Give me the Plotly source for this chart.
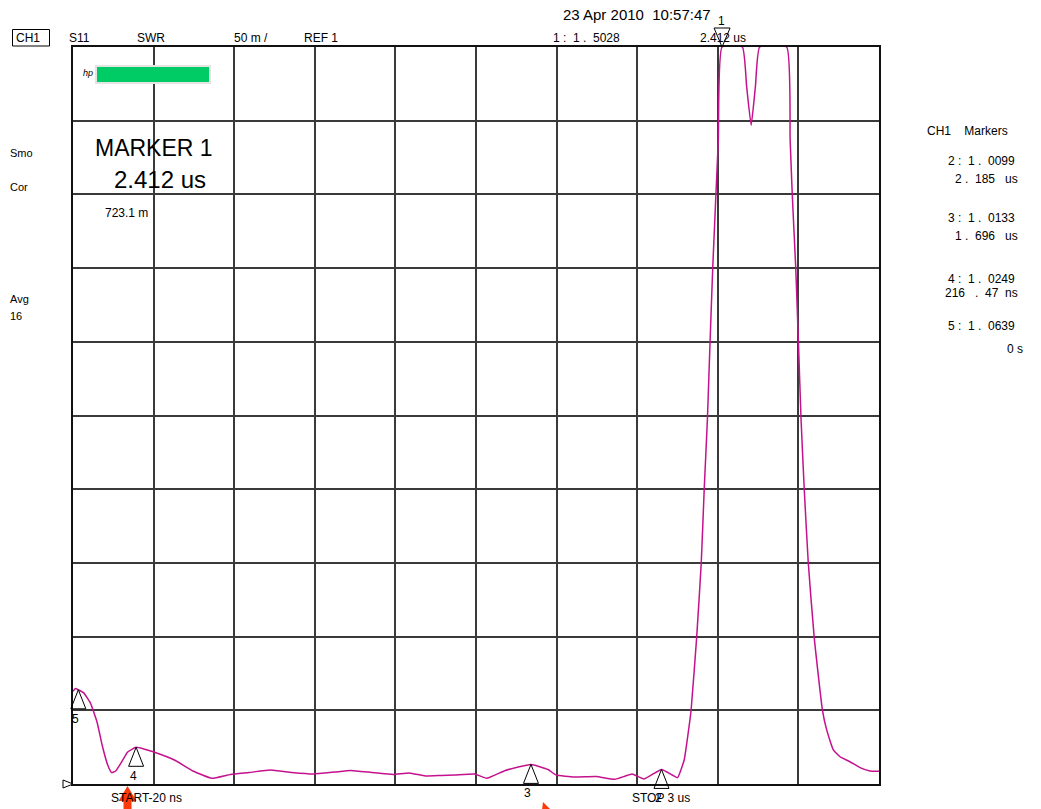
import plotly.graph_objects as go

# ---------------- data ----------------
time_us = [-0.020, -0.010, 0.000, 0.020, 0.045, 0.070, 0.090, 0.110, 0.125, 0.140, 0.160, 0.185,
           0.2165, 0.245, 0.280, 0.360, 0.430, 0.500, 0.570, 0.640, 0.720, 0.800, 0.880,
           0.960, 1.020, 1.100, 1.180, 1.240, 1.300, 1.360, 1.410, 1.485, 1.530, 1.600,
           1.696, 1.760, 1.790, 1.860, 1.940, 2.010, 2.050, 2.075, 2.120, 2.185, 2.225,
           2.245, 2.270, 2.285, 2.296, 2.317, 2.334, 2.345, 2.357, 2.367, 2.377, 2.389,
           2.398, 2.412, 2.488, 2.504, 2.521, 2.537, 2.553, 2.654, 2.667, 2.675, 2.688,
           2.698, 2.708, 2.720, 2.735, 2.757, 2.788, 2.804, 2.829, 2.854, 2.891, 2.929,
           2.966, 3.000]
swr = [1.0630, 1.0648, 1.0639, 1.0618, 1.0550, 1.0421, 1.0258, 1.0129, 1.0077, 1.0088, 1.0143, 1.0217,
       1.0249, 1.0238, 1.0219, 1.0163, 1.0088, 1.0039, 1.0065, 1.0078, 1.0095, 1.0078, 1.0068,
       1.0081, 1.0092, 1.0078, 1.0065, 1.0075, 1.0054, 1.0058, 1.0061, 1.0068, 1.0039, 1.0092,
       1.0133, 1.0098, 1.0061, 1.0048, 1.0051, 1.0032, 1.0054, 1.0068, 1.0034, 1.0099, 1.0061,
       1.0043, 1.0163, 1.0346, 1.0502, 1.1000, 1.1499, 1.1996, 1.2471, 1.2999, 1.3501, 1.3999,
       1.4373, 1.5000, 1.5000, 1.4733, 1.4469, 1.4733, 1.5000, 1.5000, 1.4373, 1.3999, 1.3503,
       1.3001, 1.2471, 1.1996, 1.1501, 1.0998, 1.0502, 1.0367, 1.0231, 1.0185, 1.0151, 1.0111,
       1.0088, 1.0086]

marker_ids = ["1", "2", "3", "4", "5"]
marker_time_us = [2.412, 2.185, 1.696, 0.21647, 0.0]
marker_swr = [1.5028, 1.0099, 1.0133, 1.0249, 1.0639]

x_start, x_stop = -0.020, 3.0
ref_value, scale_per_div, n_div = 1.0, 0.05, 10

header_labels = ["S11", "SWR", "50 m /", "REF 1"]
header_x = [67, 135, 232, 302]
left_labels = ["Smo", "Cor", "Avg", "16"]
left_y = [153, 187, 299, 316]

# ---------------- layout helpers ----------------
W, H = 1041, 809
L, R, T, B = 73, 879, 47, 784
y_top = ref_value + scale_per_div * n_div
x_div = (x_stop - x_start) / n_div


def px(x):
    return (x - L) / (R - L)


def py(y):
    return (B - y) / (B - T)


def dx(t):  # data time -> paper fraction
    return (t - x_start) / (x_stop - x_start)


def dy(v):  # data swr -> paper fraction
    return (v - ref_value) / (y_top - ref_value)


FONT = "Liberation Sans, Arial, sans-serif"
TRACE = "#C4128E"

fig = go.Figure()
fig.add_trace(go.Scatter(x=time_us, y=swr, mode="lines",
                         line=dict(color=TRACE, width=1.5, shape="spline", smoothing=0.4),
                         hoverinfo="skip", showlegend=False))

shapes = []
annotations = []


def text(x, y, s, size=12, anchor="left"):
    annotations.append(dict(x=px(x), y=py(y), xref="paper", yref="paper", text=s,
                            showarrow=False, xanchor=anchor, yanchor="middle",
                            font=dict(family=FONT, size=size, color="black")))


# marker triangles (apex at data point)
for mid, mt, mv in zip(marker_ids, marker_time_us, marker_swr):
    if mv > y_top:
        yv = y_top
        path = "M0,0 L-8,19 L8,19 Z"
        lab_shift = 26
        xs = -1
    else:
        yv = mv
        path = "M0,0 L-7.5,-19 L7.5,-19 Z"
        lab_shift = -29
        xs = -3
    shapes.append(dict(type="path", xref="paper", yref="paper", xsizemode="pixel", ysizemode="pixel",
                       xanchor=dx(mt), yanchor=dy(yv), path=path,
                       line=dict(color="black", width=1), fillcolor="rgba(0,0,0,0)", layer="above"))
    annotations.append(dict(x=mt, y=yv, xref="x", yref="y", text=mid, showarrow=False,
                            xshift=xs, yshift=lab_shift,
                            font=dict(family=FONT, size=12, color="black")))

# reference-level pointer
shapes.append(dict(type="path", xref="paper", yref="paper", xsizemode="pixel", ysizemode="pixel",
                   xanchor=dx(x_start), yanchor=dy(ref_value), path="M0,0 L-10,4 L-10,-4 Z",
                   line=dict(color="black", width=1), fillcolor="white", layer="above"))

# CH1 box
shapes.append(dict(type="rect", xref="paper", yref="paper", x0=px(12.5), x1=px(49.5),
                   y0=py(46), y1=py(29.5), line=dict(color="black", width=1)))
text(14, 38, "CH1")
for s, x in zip(header_labels, header_x):
    text(x, 38, s)
text(561, 14.5, "23 Apr 2010&nbsp; 10:57:47", size=15)
text(551, 38, "1&nbsp;:&nbsp;&nbsp;1&nbsp;.&nbsp;&nbsp;5028")
text(698, 38, "2.412 us")

for s, y in zip(left_labels, left_y):
    text(8, y, s, size=11)

# hp logo + green bar
shapes.append(dict(type="rect", xref="paper", yref="paper", x0=px(96), x1=px(210),
                   y0=py(83), y1=py(66), line=dict(color="#e4e4e4", width=2), fillcolor="#00CC66"))
text(81, 73, "<i>hp</i>", size=9)

# big marker readout
text(93, 148, "MARKER 1", size=23)
text(112, 180, "2.412 us", size=24)
text(103, 213, "723.1 m", size=12)

# right side marker table
text(925, 131, "CH1&nbsp;&nbsp;&nbsp;&nbsp;Markers")
rows = [("2&nbsp;:&nbsp;&nbsp;1&nbsp;.&nbsp;&nbsp;0099", 161, "2&nbsp;.&nbsp;&nbsp;185", 953, "us", 179),
        ("3&nbsp;:&nbsp;&nbsp;1&nbsp;.&nbsp;&nbsp;0133", 218, "1&nbsp;.&nbsp;&nbsp;696", 953, "us", 236),
        ("4&nbsp;:&nbsp;&nbsp;1&nbsp;.&nbsp;&nbsp;0249", 279, "216&nbsp;&nbsp;&nbsp;.&nbsp;&nbsp;47", 943, "ns", 293),
        ("5&nbsp;:&nbsp;&nbsp;1&nbsp;.&nbsp;&nbsp;0639", 326, "0", 1005, "s", 349)]
for a, ya, b, xb, u, yb in rows:
    text(946, ya, a)
    text(xb, yb, b)
    text(1003 if u != "s" else 1015, yb, u)

# bottom labels
text(109, 798, "START-20 ns")
text(630, 798, "STOP 3 us")


# red arrows
def pth(pts):
    return "M " + " L ".join(f"{px(x)},{py(y)}" for x, y in pts) + " Z"


shapes.append(dict(type="path", xref="paper", yref="paper",
                   path=pth([(127.5, 786), (136.5, 801), (131.5, 801), (131.5, 812),
                             (123.5, 812), (123.5, 801), (118.5, 801)]),
                   line=dict(width=0), fillcolor="#FF3A0A", layer="above"))
shapes.append(dict(type="path", xref="paper", yref="paper",
                   path=pth([(543, 802), (551, 810), (542, 810)]),
                   line=dict(width=0), fillcolor="#FF3A0A", layer="above"))

fig.update_layout(
    width=W, height=H,
    margin=dict(l=L, r=W - R, t=T, b=H - B, pad=0),
    paper_bgcolor="white", plot_bgcolor="white",
    shapes=shapes, annotations=annotations,
    xaxis=dict(range=[x_start, x_stop], tick0=x_start, dtick=x_div, showticklabels=False,
               ticks="", showgrid=True, gridcolor="#3a3a3a", gridwidth=1.5, zeroline=False,
               showline=True, mirror=True, linecolor="#111111", linewidth=1.5, fixedrange=True),
    yaxis=dict(range=[ref_value, y_top], tick0=ref_value, dtick=scale_per_div, showticklabels=False,
               ticks="", showgrid=True, gridcolor="#3a3a3a", gridwidth=1.5, zeroline=False,
               showline=True, mirror=True, linecolor="#111111", linewidth=1.5, fixedrange=True),
    font=dict(family=FONT),
)

fig.write_html("out.html", config={"displayModeBar": False},
               post_script="document.body.style.margin='0';")
